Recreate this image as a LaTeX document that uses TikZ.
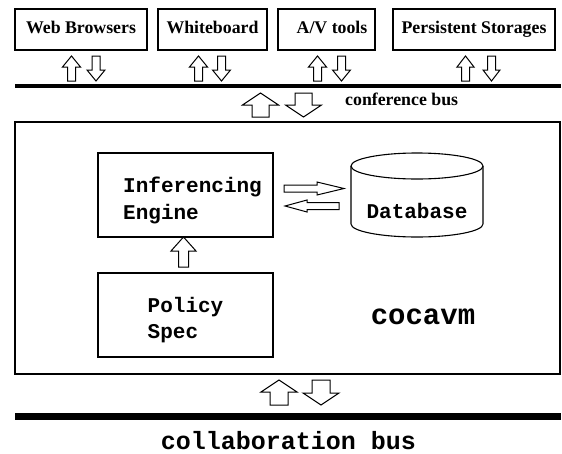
\documentclass[tikz,border=0pt]{standalone}
\usepackage{fontspec}
\newfontfamily\tmsfam{Liberation Serif}
\newfontfamily\courfam{Liberation Mono}
\newcommand\blkUp[6]{% cx, ytop, ybot, headhalf, shafthalf, headlen
  \draw[blk] (#1,#2) -- ({#1+#4},{#2+#6}) -- ({#1+#5},{#2+#6}) -- ({#1+#5},#3) -- ({#1-#5},#3) -- ({#1-#5},{#2+#6}) -- ({#1-#4},{#2+#6}) -- cycle;}
\newcommand\blkDn[6]{% cx, ytop, ybot, headhalf, shafthalf, headlen
  \draw[blk] (#1,#3) -- ({#1+#4},{#3-#6}) -- ({#1+#5},{#3-#6}) -- ({#1+#5},#2) -- ({#1-#5},#2) -- ({#1-#5},{#3-#6}) -- ({#1-#4},{#3-#6}) -- cycle;}
\newcommand\blkRt[6]{% cy, xleft, xright, headhalf, shafthalf, headlen
  \draw[blk] (#3,#1) -- ({#3-#6},{#1-#4}) -- ({#3-#6},{#1-#5}) -- (#2,{#1-#5}) -- (#2,{#1+#5}) -- ({#3-#6},{#1+#5}) -- ({#3-#6},{#1+#4}) -- cycle;}
\newcommand\blkLf[6]{% cy, xleft, xright, headhalf, shafthalf, headlen
  \draw[blk] (#2,#1) -- ({#2+#6},{#1-#4}) -- ({#2+#6},{#1-#5}) -- (#3,{#1-#5}) -- (#3,{#1+#5}) -- ({#2+#6},{#1+#5}) -- ({#2+#6},{#1+#4}) -- cycle;}
\tikzset{
  box/.style={draw, line width=1.1pt, inner sep=0pt},
  toptext/.style={font=\tmsfam\bfseries\fontsize{17.8}{20}\selectfont, text height=11pt, text depth=4pt},
  mono/.style={font=\courfam\bfseries\fontsize{21}{26.5}\selectfont, align=left, inner sep=0pt},
  blk/.style={draw, line width=1pt, fill=white, line join=miter},
  bus/.style={line width=#1},
}
\begin{document}
\begin{tikzpicture}[x=1pt, y=-1pt]
\useasboundingbox (0,0) rectangle (562,453);
% top boxes
\node[box, toptext, minimum width=132, minimum height=41] (wb) at (81,29.5) {Web Browsers};
\node[box, toptext, minimum width=109, minimum height=41] (whb) at (212.5,29.5) {Whiteboard};
\node[box, minimum width=97, minimum height=41] (av) at (326.5,29.5) {};
\node[toptext, inner sep=0pt] (avt) at (332,29.5) {A/V tools};
\node[box, toptext, minimum width=162, minimum height=41] (ps) at (474,29.5) {Persistent Storages};
% small arrows
\blkUp{71.5}{56}{81}{9}{4}{11}
\blkDn{96}{56}{81}{9}{4}{11}
\blkUp{198.5}{56}{81}{9}{4}{11}
\blkDn{221.5}{56}{81}{9}{4}{11}
\blkUp{317.5}{56}{81}{9}{4}{11}
\blkDn{341.5}{56}{81}{9}{4}{11}
\blkUp{465.5}{56}{81}{8.5}{4}{11}
\blkDn{491.5}{56}{81}{8.5}{4}{11}
% conference bus
\coordinate (cbL) at (15,86);
\coordinate (cbR) at (561,86);
\draw[bus=4pt] (cbL) -- (cbR);
\blkUp{260.5}{93}{117}{18}{8.5}{12}
\blkDn{303.5}{93}{117}{18}{8.5}{12}
\node[font=\tmsfam\bfseries\fontsize{17.8}{20}\selectfont, anchor=base west, inner sep=0pt] (cbt) at (345,105) {conference bus};
% main box
\node[box, minimum width=545, minimum height=252] (main) at (287.5,248) {};
% inferencing engine
\node[box, minimum width=175, minimum height=84] (ie) at (185.5,195) {};
\node[mono, anchor=west] (iet) at (123,200.5) {Inferencing\\Engine};
% policy spec
\node[box, minimum width=175, minimum height=84] (pol) at (185.5,315) {};
\node[mono, anchor=west] (polt) at (147.5,320) {Policy\\Spec};
\blkUp{183.5}{237}{267}{12.5}{5}{14}
% database cylinder
\node[minimum width=132, minimum height=84, inner sep=0pt] (db) at (417,195) {};
\draw[line width=1.1pt, fill=white] (417,166) ellipse [x radius=66pt, y radius=13pt];
\draw[line width=1.1pt] (351,166) -- (351,224) arc [start angle=180, end angle=360, x radius=66pt, y radius=13pt] -- (483,166);
\node[mono] (dbt) at (417,211) {Database};
% arrows between engine and database
\blkRt{188.5}{284}{344}{6.5}{3.5}{27}
\blkLf{206}{285}{339}{6}{3.5}{22}
% cocavm
\node[font=\courfam\bfseries\fontsize{29}{32}\selectfont, inner sep=0pt] (coc) at (423,317) {cocavm};
% bottom arrows and collaboration bus
\blkUp{279}{380}{405}{18}{9}{12}
\blkDn{321}{380}{405}{18}{9}{12}
\coordinate (clL) at (15,416.5);
\coordinate (clR) at (561,416.5);
\draw[bus=7pt] (clL) -- (clR);
\node[font=\courfam\bfseries\fontsize{25}{28}\selectfont, anchor=base, inner sep=0pt] (clt) at (288.5,449) {collaboration bus};
\end{tikzpicture}
\end{document}
